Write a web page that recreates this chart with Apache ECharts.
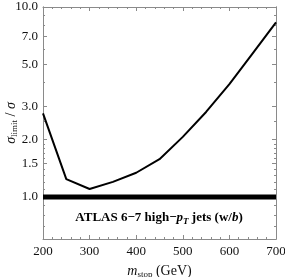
<!DOCTYPE html>
<html><head><meta charset="utf-8">
<script src="https://cdn.jsdelivr.net/npm/echarts@6/dist/echarts.min.js"></script>
<style>html,body{margin:0;padding:0;background:#fff}#c{width:285px;height:277px}</style>
</head><body><div id="c"></div>
<script>
var masses = [200, 250, 300, 350, 400, 450, 500, 550, 600, 650, 700];
var ratio = [2.75, 1.24, 1.10, 1.20, 1.34, 1.58, 2.07, 2.80, 3.92, 5.70, 8.30];
var refLine = [1.0, 1.0];
var refX = [200, 700];
var yMajor = [1.0, 1.5, 2.0, 3.0, 5.0, 7.0, 10.0];
var yMinor = [0.6, 0.7, 0.8, 0.9, 1.1, 1.2, 1.3, 1.4, 1.6, 1.7, 1.8, 1.9, 2.5, 4, 6, 8, 9];
var yMin = 0.6, yMax = 10;

var L = Math.log10;
var FONT = 'Liberation Serif';
var axisCol = '#8a8a8a';

function yAxisDef(pos, vals, len, labels) {
  return {
    type: 'value', position: pos, min: L(yMin), max: L(yMax),
    axisLine: {show: true, lineStyle: {color: axisCol, width: 1}},
    axisTick: {show: true, inside: true, length: len, customValues: vals.map(L), lineStyle: {color: axisCol}},
    axisLabel: labels ? {show: true, customValues: yMajor.map(L), fontFamily: FONT, fontSize: 13, color: '#111', margin: 5,
      formatter: function (v) { return Math.pow(10, v).toFixed(1); }} : {show: false},
    splitLine: {show: false}
  };
}
function xAxisDef(pos, labels) {
  return {
    type: 'value', position: pos, min: 200, max: 700, interval: 100,
    axisLine: {show: true, onZero: false, lineStyle: {color: axisCol, width: 1}},
    axisTick: {show: true, inside: true, length: 4, lineStyle: {color: axisCol}},
    minorTick: {show: true, splitNumber: 5, length: 2, lineStyle: {color: axisCol}},
    axisLabel: labels ? {show: true, fontFamily: FONT, fontSize: 13, color: '#111', margin: 6} : {show: false},
    splitLine: {show: false},
    name: labels ? '{i|m}{sub|stop}{n| (GeV)}' : '',
    nameLocation: 'middle', nameGap: 24,
    nameTextStyle: {rich: {
      i: {fontFamily: FONT, fontStyle: 'italic', fontSize: 14, color: '#111', lineHeight: 16},
      sub: {fontFamily: FONT, fontSize: 9, color: '#111', lineHeight: 9, verticalAlign: 'bottom'},
      n: {fontFamily: FONT, fontSize: 14, color: '#111', lineHeight: 16}
    }}
  };
}

var chart = echarts.init(document.getElementById('c'), null, {renderer: 'canvas'});
var ya = yAxisDef('left', yMajor, 4, true);
ya.name = '{i|σ}{sub|limit}{n| / }{i|σ}';
ya.nameLocation = 'middle';
ya.nameGap = 24;
ya.nameMoveOverlap = false;
ya.nameTextStyle = {rich: {
  i: {fontFamily: FONT, fontStyle: 'italic', fontSize: 14, color: '#111', lineHeight: 16},
  sub: {fontFamily: FONT, fontSize: 9, color: '#111', lineHeight: 9, verticalAlign: 'bottom'},
  n: {fontFamily: FONT, fontSize: 14, color: '#111', lineHeight: 16}
}};

chart.setOption({
  animation: false,
  grid: {left: 43, right: 9, top: 7, bottom: 38, containLabel: false, outerBoundsMode: 'none'},
  xAxis: [xAxisDef('bottom', true), xAxisDef('top', false)],
  yAxis: [ya, yAxisDef('left', yMinor, 2, false), yAxisDef('right', yMajor, 4, false), yAxisDef('right', yMinor, 2, false)],
  series: [
    {type: 'line', xAxisIndex: 0, yAxisIndex: 0, symbol: 'none',
      data: refX.map(function (x, i) { return [x, L(refLine[i])]; }),
      lineStyle: {color: '#000', width: 5}},
    {type: 'line', xAxisIndex: 0, yAxisIndex: 0, symbol: 'none',
      data: masses.map(function (m, i) { return [m, L(ratio[i])]; }),
      lineStyle: {color: '#000', width: 2}}
  ],
  graphic: [{
    type: 'text', x: 159, y: 218, z: 10,
    style: {
      align: 'center', verticalAlign: 'middle',
      text: '{b|ATLAS 6−7 high−}{bi|p}{bs|T}{b| jets (w/}{bi|b}{b|)}',
      rich: {
        b: {fontFamily: FONT, fontWeight: 'bold', fontSize: 13, fill: '#000', lineHeight: 16},
        bi: {fontFamily: FONT, fontWeight: 'bold', fontStyle: 'italic', fontSize: 13, fill: '#000', lineHeight: 16},
        bs: {fontFamily: FONT, fontWeight: 'bold', fontStyle: 'italic', fontSize: 9, fill: '#000', lineHeight: 9, verticalAlign: 'bottom'}
      }
    }
  }]
});
</script></body></html>
